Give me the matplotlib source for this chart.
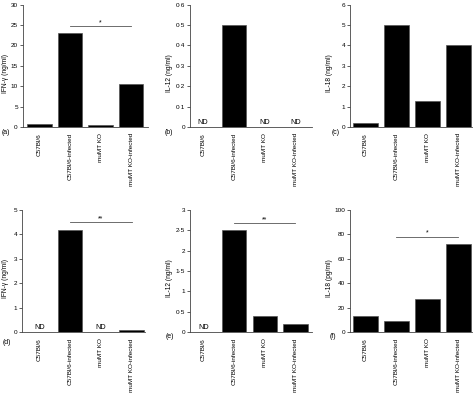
import numpy as np
import matplotlib
matplotlib.use('Agg')
import matplotlib.pyplot as plt

plt.rcParams['font.family'] = ['Liberation Sans', 'DejaVu Sans']

groups = ['C57Bl/6', 'C57Bl/6-infected', 'muMT KO', 'muMT KO-infected']

# None = not detected (ND)
ifn_a = [0.8, 23, 0.5, 10.5]
il12_b = [None, 0.5, None, None]
il18_c = [0.2, 5, 1.3, 4]
ifn_d = [None, 4.2, None, 0.1]
il12_e = [None, 2.5, 0.4, 0.2]
il18_f = [13, 9, 27, 72]

ylabels = ['IFN-γ (ng/ml)', 'IL-12 (ng/ml)', 'IL-18 (ng/ml)',
           'IFN-γ (ng/ml)', 'IL-12 (ng/ml)', 'IL-18 (pg/ml)']
letters = ['(a)', '(b)', '(c)', '(d)', '(e)', '(f)']
yticks = [np.arange(0, 31, 5), np.arange(0, 0.61, 0.1), np.arange(0, 7, 1),
          np.arange(0, 6, 1), np.arange(0, 3.01, 0.5), np.arange(0, 101, 20)]
# significance bars: (from, to, height, text)
sig = [(1, 3, 24.8, '*'), None, None,
       (1, 3, 4.5, '**'), (1, 3, 2.67, '**'), (1, 3, 78, '*')]

W, H = 475, 396
# pixel rects: left, right, zero-line y, top y
rects = [(22.7, 148, 127, 4.7), (190, 312, 127, 4.7), (350, 472, 127, 4.7),
         (22, 145, 332, 210), (190, 312, 332, 210), (350, 472, 332, 210)]
xlims = [(-0.55, 3.55), (-0.42, 3.53), (-0.5, 3.44),
         (-0.57, 3.44), (-0.44, 3.54), (-0.5, 3.44)]
letter_pos = [(2, 133), (165, 133), (332, 133), (3, 342), (166, 336), (330, 336)]
ylabel_x = [9, 173, 333, 9, 173, 333]

fig = plt.figure(figsize=(W / 100, H / 100), dpi=100)

data = [ifn_a, il12_b, il18_c, ifn_d, il12_e, il18_f]

def fmt(v):
    s = ('%g' % round(v, 2))
    return s.replace('.', '·')

for i, vals in enumerate(data):
    l, r, b, t = rects[i]
    ax = fig.add_axes([l / W, 1 - b / H, (r - l) / W, (b - t) / H])
    x = np.arange(len(groups))
    heights = [0 if v is None else v for v in vals]
    ax.bar(x, heights, width=0.8, color='black', edgecolor='#555555', linewidth=0.5)
    ymax = yticks[i][-1]
    for xi, v in zip(x, vals):
        if v is None:
            ax.text(xi, ymax * 0.005, 'ND', ha='center', va='bottom', fontsize=5.2)
    ax.set_xlim(*xlims[i])
    ax.set_ylim(0, ymax)
    ax.set_yticks(yticks[i])
    ax.set_yticklabels([fmt(v) for v in yticks[i]])
    ax.set_xticks(x)
    ax.set_xticklabels(groups, rotation=90)
    ax.tick_params(axis='x', length=0, pad=4.5, labelsize=4.6)
    ax.tick_params(axis='y', length=2, width=0.6, pad=1.5, labelsize=4.6,
                   color='#444444')
    for s in ['top', 'right']:
        ax.spines[s].set_visible(False)
    for s in ['left', 'bottom']:
        ax.spines[s].set_linewidth(0.6)
        ax.spines[s].set_color('#444444')
    ax.set_ylabel(ylabels[i], fontsize=4.8)
    ax.yaxis.set_label_coords((ylabel_x[i] - l) / (r - l), 0.44)
    if sig[i] is not None:
        a, bb, h, txt = sig[i]
        ax.plot([a, bb], [h, h], color='#555555', linewidth=0.6, clip_on=False)
        ax.text((a + bb) / 2, h, txt, ha='center', va='bottom', fontsize=5)
    fx, fy = letter_pos[i]
    fig.text(fx / W, 1 - fy / H, letters[i], fontsize=5, ha='left', va='center')

fig.savefig('out.png', dpi=100)
